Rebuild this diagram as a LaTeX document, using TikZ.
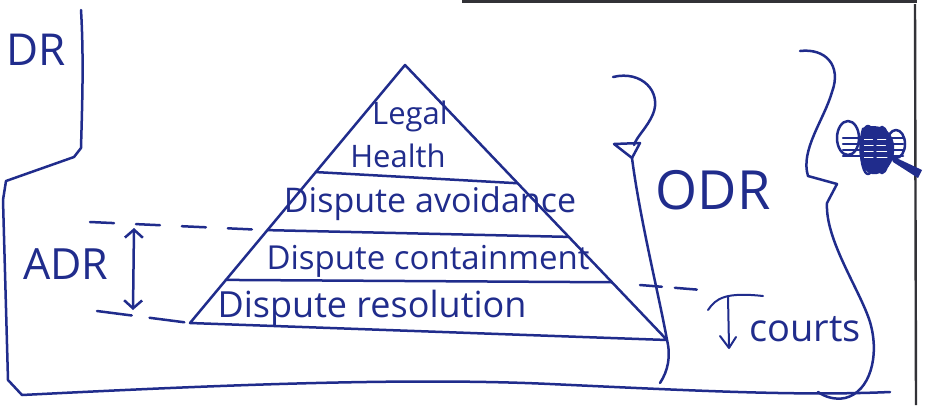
\documentclass[tikz,border=0pt]{standalone}
\usepackage{fontspec}
\setmainfont{Open Sans}
\usetikzlibrary{arrows.meta,calc}
\definecolor{ink}{RGB}{32,44,140}
\definecolor{edgegray}{RGB}{50,50,55}
\begin{document}
\begin{tikzpicture}[x=1pt,y=-1pt,
  pen/.style={draw=ink, line width=2.5pt, line cap=round, line join=round},
  finepen/.style={pen, line width=2pt},
  hand/.style={text=ink, inner sep=0pt, font=\fontsize{#1}{#1}\selectfont},
  barb/.tip={Straight Barb[length=8pt,width=18pt]},
  dashline/.style={pen, dash pattern=on 24pt off 22pt}]
\useasboundingbox (0,0) rectangle (929,405);
\clip (0,0) rectangle (929,405);
\fill[white] (0,0) rectangle (929,405);

% page edges
\draw[edgegray, line width=3pt] (462,1) -- (917,1);
\draw[edgegray, line width=2.4pt] (915,4) -- (916,405);

% outline of the left panel and the bottom rule
\draw[pen] (81,10) .. controls (84,60) and (82,110) .. (81,148)
  -- (74,157) -- (6,181) -- (3,200) -- (8,380) -- (22,395)
  .. controls (200,386) and (400,377) .. (550,384)
  .. controls (700,391) and (800,396) .. (890,392);

% pyramid
\coordinate (apex) at (405,65);
\coordinate (bl) at (190,323);
\coordinate (br) at (667,340);
\draw[pen] (bl) -- (apex) -- (br) -- cycle;
\draw[pen] ($(apex)!0.415!(bl)$) coordinate (l1) -- ($(apex)!0.43!(br)$) coordinate (r1);
\draw[pen] ($(apex)!0.64!(bl)$) coordinate (l2) -- ($(apex)!0.625!(br)$) coordinate (r2);
\draw[pen] ($(apex)!0.833!(bl)$) coordinate (l3) -- ($(apex)!0.79!(br)$) coordinate (r3);

\node[hand=31] (legal) at (410,116) {Legal};
\node[hand=31] (health) at (398,156) {Health};
\node[hand=34] (avoid) at (430,204) {Dispute avoidance};
\node[hand=33] (contain) at (428,261) {Dispute containment};
\node[hand=36] (resol) at (372,308) {Dispute resolution};

% ADR band
\coordinate (adrtop) at (90,222);
\coordinate (adrbot) at (97,311);
\draw[dashline] (adrtop) -- (l2);
\draw[pen, dash pattern=on 35pt off 18pt] (adrbot) -- (bl);
\coordinate (adra) at (134,228);
\coordinate (adrb) at (133,310);
\draw[pen, barb-barb] (adra) -- (adrb);
\node[hand=43] (adr) at (66,264) {ADR};

% top-left label
\node[hand=44, anchor=east] (odrtop) at (66,50) {DR};

% ODR brace
\coordinate (curl) at (613,77);
\coordinate (knot) at (632,158);
\draw[pen] (curl) .. controls (642,70) and (662,92) .. (653,114)
  .. controls (647,128) and (637,136) .. (634,145);
\draw[pen] (614,144) -- (640,143) -- (knot) -- cycle;
\draw[pen] (knot) .. controls (640,220) and (660,300) .. (br)
  .. controls (671,356) and (668,371) .. (660,383);
\node[hand=54] (odr) at (713,190) {ODR};

% courts band
\coordinate (ca) at (640,285);
\coordinate (cb) at (702,290);
\draw[pen, dash pattern=on 22pt off 13pt] (ca) -- (cb);
\draw[finepen] (708,310) .. controls (716,298) and (726,292) .. (763,296);
\draw[finepen] (728,297) -- (729,346);
\draw[finepen] (720,336) -- (729,348) -- (736,337);
\node[hand=38] (courts) at (805,329) {courts};

% outer brace
\draw[pen] (800,51) .. controls (825,48) and (842,65) .. (832,92)
  .. controls (824,120) and (800,150) .. (808,176)
  -- (837,184) -- (827,203)
  .. controls (825,240) and (860,290) .. (870,322)
  .. controls (880,356) and (870,392) .. (845,398)
  .. controls (835,400) and (825,397) .. (818,392);

% crossed-out word
\fill[ink] (862,128) .. controls (880,122) and (892,130) .. (894,145)
  .. controls (896,162) and (885,176) .. (872,174)
  .. controls (860,172) and (856,150) .. (862,128) -- cycle;
\foreach \yy in {139,145,151,157}
  \draw[white, line width=1.6pt] (864,\yy) -- (888,\yy);
\draw[pen] (848,138) ellipse (11 and 17);
\foreach \yy in {138,144,150,156} \draw[pen] (843,\yy) -- (903,\yy);
\draw[pen] (868,150) ellipse (7 and 24);
\draw[pen] (882,150) ellipse (7 and 23);
\draw[pen] (896,144) ellipse (9 and 14);
\fill[ink] (890,155) -- (922,170) -- (918,178) -- (893,162) -- cycle;
\end{tikzpicture}
\end{document}
